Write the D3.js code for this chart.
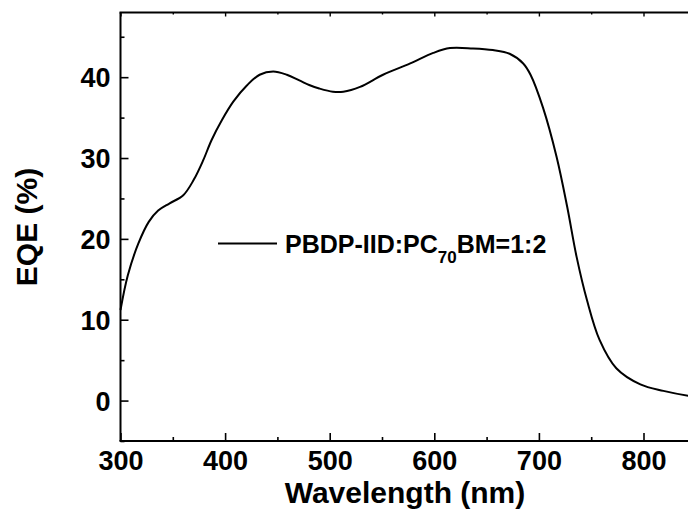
<!DOCTYPE html>
<html>
<head>
<meta charset="utf-8">
<script src="https://cdn.jsdelivr.net/npm/d3@7"></script>
<style>
  html, body { margin: 0; padding: 0; background: #fff; }
  svg { display: block; }
  text { font-family: "Liberation Sans", Arial, sans-serif; font-weight: bold; fill: #000; }
</style>
</head>
<body>
<svg id="chart" width="688" height="510"></svg>
<script>
const wavelength = [300, 307, 317, 327, 336, 347, 360, 370, 379, 387, 397, 408, 421, 433, 446, 459, 471, 481, 490, 503, 513, 529, 551, 577, 599, 615, 637, 656, 672, 685, 692, 704, 717, 727, 736, 746, 758, 774, 797, 819, 843, 850];
const eqe = [11.2, 15.5, 19.4, 22.1, 23.5, 24.4, 25.4, 27.3, 29.7, 32.2, 34.7, 37.0, 39.0, 40.3, 40.7, 40.3, 39.6, 39.0, 38.6, 38.2, 38.2, 38.8, 40.3, 41.7, 43.0, 43.6, 43.55, 43.35, 42.9, 41.7, 40.3, 36.2, 30.1, 24.0, 17.8, 12.4, 7.5, 4.0, 2.0, 1.2, 0.6, 0.5];
const xTicks = [300, 400, 500, 600, 700, 800];
const xMinorTicks = [350, 450, 550, 650, 750, 850];
const yTicks = [0, 10, 20, 30, 40];
const yMinorTicks = [-5, 5, 15, 25, 35, 45];
const seriesLabel = "PBDP-IID:PC";
const seriesSub = "70";
const seriesTail = "BM=1:2";
const xTitle = "Wavelength (nm)";
const yTitle = "EQE (%)";

const svg = d3.select("#chart");
const L = 120.5, T = 12.5, B = 441;
const x = d3.scaleLinear().domain([300, 850]).range([L, L + 550 * 1.046]);
const y = d3.scaleLinear().domain([-5, 48]).range([B, T]);
const R = x.range()[1];

const g = svg.append("g");
g.append("line").attr("x1", L).attr("x2", L).attr("y1", T).attr("y2", B).attr("stroke", "#000").attr("stroke-width", 2);
g.append("line").attr("x1", L - 1).attr("x2", R).attr("y1", B).attr("y2", B).attr("stroke", "#000").attr("stroke-width", 2);
g.append("line").attr("x1", L - 1).attr("x2", R).attr("y1", T).attr("y2", T).attr("stroke", "#000").attr("stroke-width", 2);

const fontFam = "Liberation Sans, Arial, sans-serif";

const bottomAxis = d3.axisBottom(x).tickValues(xTicks).tickSize(-8).tickFormat(d3.format("d"));
const bAx = g.append("g").attr("transform", `translate(0,${B})`).call(bottomAxis);
bAx.select(".domain").remove();
bAx.selectAll(".tick line").attr("stroke-width", 1.6);
bAx.selectAll("text").attr("font-size", 27).attr("y", 10).attr("dy", "0.71em")
  .style("font-family", fontFam).style("font-weight", "bold");
const bMinAxis = d3.axisBottom(x).tickValues(xMinorTicks).tickSize(-4).tickFormat("");
const bmAx = g.append("g").attr("transform", `translate(0,${B})`).call(bMinAxis);
bmAx.select(".domain").remove();
bmAx.selectAll(".tick line").attr("stroke-width", 1.6);

const topAxis = d3.axisTop(x).tickValues(xTicks).tickSize(-4).tickFormat("");
const tAx = g.append("g").attr("transform", `translate(0,${T})`).call(topAxis);
tAx.select(".domain").remove();
tAx.selectAll(".tick line").attr("stroke-width", 1.4);
const topMinAxis = d3.axisTop(x).tickValues(xMinorTicks).tickSize(-2).tickFormat("");
const tmAx = g.append("g").attr("transform", `translate(0,${T})`).call(topMinAxis);
tmAx.select(".domain").remove();
tmAx.selectAll(".tick line").attr("stroke-width", 1.4);

const leftAxis = d3.axisLeft(y).tickValues(yTicks).tickSize(-8).tickFormat(d3.format("d"));
const lAx = g.append("g").attr("transform", `translate(${L},0)`).call(leftAxis);
lAx.select(".domain").remove();
lAx.selectAll(".tick line").attr("stroke-width", 1.6);
lAx.selectAll("text").attr("font-size", 27).attr("x", -10).attr("dy", "0.36em")
  .style("font-family", fontFam).style("font-weight", "bold");
const lMinAxis = d3.axisLeft(y).tickValues(yMinorTicks).tickSize(-4).tickFormat("");
const lmAx = g.append("g").attr("transform", `translate(${L},0)`).call(lMinAxis);
lmAx.select(".domain").remove();
lmAx.selectAll(".tick line").attr("stroke-width", 1.6);

const data = wavelength.map((w, i) => ({ w, v: eqe[i] }));
const line = d3.line().x(d => x(d.w)).y(d => y(d.v)).curve(d3.curveCatmullRom.alpha(0.5));
g.append("path").datum(data).attr("d", line).attr("fill", "none").attr("stroke", "#000").attr("stroke-width", 2);

g.append("line").attr("x1", 218).attr("x2", 277).attr("y1", 243.5).attr("y2", 243.5).attr("stroke", "#000").attr("stroke-width", 2);
const lt = g.append("text").attr("x", 285).attr("y", 253).attr("font-size", 25);
lt.append("tspan").text(seriesLabel);
lt.append("tspan").attr("font-size", 17).attr("dy", 10).text(seriesSub);
lt.append("tspan").attr("dy", -10).text(seriesTail);

g.append("text").attr("x", 405).attr("y", 503).attr("text-anchor", "middle").attr("font-size", 30).text(xTitle);
g.append("text").attr("transform", "translate(37,227) rotate(-90)").attr("text-anchor", "middle").attr("font-size", 30).text(yTitle);
</script>
</body>
</html>
